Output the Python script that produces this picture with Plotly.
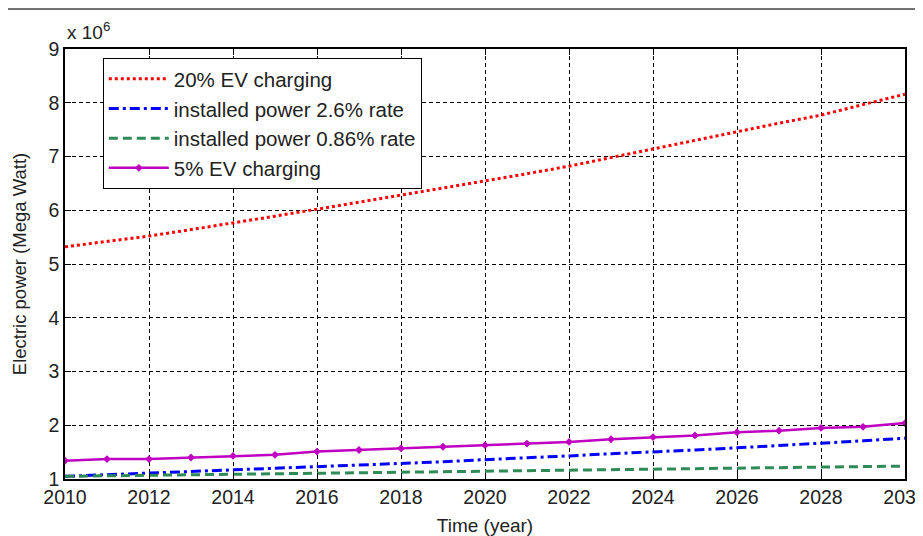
import plotly.graph_objects as go

years = list(range(2010, 2031))
ev20 = [5.32, 5.42, 5.52, 5.64, 5.76, 5.89, 6.02, 6.15, 6.28, 6.41, 6.55,
        6.68, 6.82, 6.98, 7.14, 7.30, 7.47, 7.62, 7.77, 7.96, 8.16]
inst26 = [1.05, 1.08, 1.10, 1.13, 1.16, 1.19, 1.22, 1.26, 1.29, 1.32, 1.36,
          1.39, 1.43, 1.47, 1.50, 1.54, 1.58, 1.62, 1.67, 1.71, 1.76]
inst086 = [1.05, 1.06, 1.07, 1.08, 1.09, 1.10, 1.10, 1.11, 1.12, 1.13, 1.14,
           1.15, 1.16, 1.17, 1.18, 1.19, 1.20, 1.21, 1.22, 1.23, 1.24]
ev5 = [1.34, 1.37, 1.37, 1.40, 1.43, 1.45, 1.51, 1.54, 1.57, 1.60, 1.63,
       1.66, 1.69, 1.74, 1.78, 1.81, 1.87, 1.90, 1.95, 1.97, 2.04]
x_ticks = list(range(2010, 2031, 2))
y_ticks = list(range(1, 10))

FONT = "Liberation Sans, Arial, sans-serif"

fig = go.Figure()
fig.add_trace(go.Scatter(x=years, y=ev20, mode="lines", name="20% EV charging",
                         line=dict(color="#FF0000", width=3, dash="3px,3px")))
fig.add_trace(go.Scatter(x=years, y=inst26, mode="lines", name="installed power 2.6% rate",
                         line=dict(color="#0000FF", width=3, dash="10px,4px,3px,4px")))
fig.add_trace(go.Scatter(x=years, y=inst086, mode="lines", name="installed power 0.86% rate",
                         line=dict(color="#2E8B57", width=3, dash="9px,5px")))
fig.add_trace(go.Scatter(x=years, y=ev5, mode="lines+markers", name="5% EV charging",
                         line=dict(color="#C000C0", width=2.5),
                         marker=dict(symbol="diamond", size=6, color="#C000C0")))

axis_common = dict(
    showline=True, linecolor="black", linewidth=1.5, mirror="ticks",
    ticks="inside", ticklen=6, tickcolor="black", tickwidth=1,
    showgrid=True, gridcolor="black", gridwidth=1, griddash="4px,3px",
    zeroline=False, automargin=False, ticklabeloverflow="allow",
    tickfont=dict(family=FONT, size=19.5, color="#222"),
)

fig.update_layout(
    width=915, height=528,
    margin=dict(l=57, r=18, t=41, b=57),
    paper_bgcolor="white", plot_bgcolor="white",
    font=dict(family=FONT, size=19, color="#222"),
    xaxis=dict(range=[2010, 2030], tickvals=x_ticks,
               title=dict(text="Time (year)", font=dict(size=19), standoff=15),
               **axis_common),
    yaxis=dict(range=[1, 9], tickvals=y_ticks,
               title=dict(text="Electric power (Mega Watt)", font=dict(size=18.5), standoff=17),
               **axis_common),
    legend=dict(x=0.045, y=0.979, xanchor="left", yanchor="top",
                bgcolor="white", bordercolor="black", borderwidth=1,
                font=dict(family=FONT, size=20.5, color="#222"),
                itemwidth=60, tracegroupgap=0),
    showlegend=True,
)

fig.add_annotation(xref="paper", yref="paper", x=0.0, y=1.01, xanchor="left", yanchor="bottom",
                   text="x 10<sup>6</sup>", showarrow=False,
                   font=dict(family=FONT, size=19, color="#222"))

fig.add_shape(type="line", xref="paper", yref="paper", x0=-0.08, x1=1.03, y0=1.093, y1=1.093,
              line=dict(color="#444", width=1.5))

fig.write_html("out.html")
